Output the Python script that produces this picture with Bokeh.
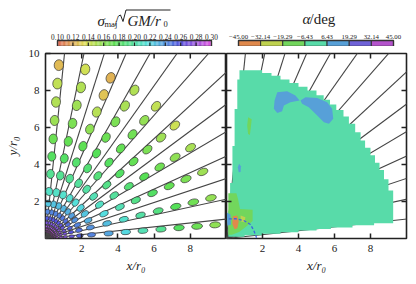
import colorsys
import numpy as np
from bokeh.plotting import figure
from bokeh.layouts import column, row
from bokeh.models import Range1d, FixedTicker, LinearColorMapper, ColumnDataSource
from bokeh.transform import transform
from bokeh.embed import file_html
from bokeh.resources import INLINE
from bokeh.core.properties import value

# ---------------- data ----------------
ray_deg = [4.5, 13.5, 22.5, 31.5, 40.5, 49.5, 58.5, 67.5, 76.5, 85.5]
ring_r = [9.4, 8.4, 7.4, 6.4, 5.4, 4.45, 3.5, 2.55, 1.9, 1.45, 1.1, 0.85, 0.65, 0.5, 0.38]
ring_major = [0.60, 0.60, 0.58, 0.56, 0.54, 0.52, 0.50, 0.45, 0.38, 0.30, 0.24, 0.19, 0.15, 0.11, 0.08]
ray_ratio = [0.54, 0.57, 0.60, 0.64, 0.68, 0.72, 0.76, 0.80, 0.82, 0.84]
sigma_rows = [
    [0.160, 0.170, 0.180, 0.195, 0.205, 0.220, 0.235, 0.245, 0.255, 0.265, 0.272, 0.280, 0.285, 0.290, 0.295],
    [0.158, 0.168, 0.178, 0.190, 0.200, 0.212, 0.228, 0.240, 0.250, 0.260, 0.270, 0.278, 0.285, 0.290, 0.295],
    [0.155, 0.165, 0.172, 0.182, 0.192, 0.205, 0.218, 0.232, 0.245, 0.256, 0.266, 0.276, 0.284, 0.290, 0.295],
    [0.152, 0.160, 0.168, 0.176, 0.186, 0.198, 0.210, 0.225, 0.240, 0.252, 0.264, 0.274, 0.283, 0.290, 0.295],
    [0.142, 0.155, 0.165, 0.172, 0.182, 0.192, 0.205, 0.220, 0.236, 0.250, 0.262, 0.273, 0.282, 0.290, 0.295],
    [0.145, 0.158, 0.168, 0.172, 0.180, 0.188, 0.200, 0.216, 0.232, 0.248, 0.260, 0.272, 0.282, 0.290, 0.295],
    [0.150, 0.152, 0.165, 0.170, 0.178, 0.186, 0.198, 0.214, 0.230, 0.246, 0.260, 0.272, 0.282, 0.290, 0.295],
    [0.122, 0.128, 0.148, 0.160, 0.174, 0.184, 0.196, 0.212, 0.228, 0.245, 0.258, 0.270, 0.280, 0.290, 0.295],
    [0.140, 0.150, 0.155, 0.165, 0.172, 0.182, 0.195, 0.210, 0.226, 0.244, 0.258, 0.270, 0.280, 0.290, 0.295],
    [0.125, 0.145, 0.150, 0.156, 0.170, 0.180, 0.195, 0.210, 0.225, 0.243, 0.257, 0.270, 0.280, 0.290, 0.295],
]
line_deg = [6, 12, 18, 24, 30, 36, 42, 48, 54, 60, 66, 72, 78, 84]

x_ticks = [2, 4, 6, 8]
y_ticks = [2, 4, 6, 8, 10]
sigma_ticks = [0.10, 0.12, 0.14, 0.16, 0.18, 0.20, 0.22, 0.24, 0.26, 0.28, 0.30]
alpha_edges = [-45.00, -32.14, -19.29, -6.43, 6.43, 19.29, 32.14, 45.00]
alpha_colors = ["#e0894c", "#bfd24f", "#72d65c", "#58dba9", "#57a0d8", "#6f62d8", "#b453cc"]

# alpha field (right panel): regions by alpha class, boundaries
field_x = [0.10, 1.0, 1.0, 2.0, 2.0, 3.0, 3.0, 4.0, 4.0, 5.0, 5.0, 5.8, 5.8, 7.0, 7.0, 8.2, 8.2, 9.26,
           9.26, 9.0, 9.0, 8.75, 8.75, 8.5, 8.5, 8.25, 8.25, 8.0, 8.0, 7.7, 7.7, 7.45, 7.45, 7.15, 7.15,
           6.8, 6.8, 6.5, 6.5, 6.1, 6.1, 5.75, 5.75, 5.4, 5.4, 5.0, 5.0, 4.5, 4.5, 4.0, 4.0, 3.5, 3.5,
           3.0, 3.0, 2.5, 2.5, 1.98, 1.98, 0.72,
           0.72, 0.6, 0.6, 0.45, 0.45, 0.33, 0.33, 0.2, 0.2, 0.1]
field_y = [0.10, 0.10, 0.18, 0.18, 0.26, 0.26, 0.34, 0.34, 0.43, 0.43, 0.52, 0.52, 0.60, 0.60, 0.72, 0.72, 0.82, 0.82,
           2.6, 2.6, 3.2, 3.2, 3.7, 3.7, 4.1, 4.1, 4.5, 4.5, 4.9, 4.9, 5.3, 5.3, 5.75, 5.75, 6.2,
           6.2, 6.6, 6.6, 6.95, 6.95, 7.25, 7.25, 7.5, 7.5, 7.75, 7.75, 8.0, 8.0, 8.2, 8.2, 8.4, 8.4, 8.6,
           8.6, 8.8, 8.8, 8.95, 8.95, 9.1, 9.1,
           8.6, 8.6, 7.0, 7.0, 5.0, 5.0, 3.0, 3.0, 1.5, 1.5]
field_cls = 3

blob_x = [
    [2.82, 3.37, 3.83, 4.06, 3.55, 3.19, 3.09, 2.82, 2.63, 2.67],
    [4.11, 4.39, 5.04, 5.59, 5.87, 5.93, 5.69, 5.41, 5.04, 4.57, 4.20],
    [1.20, 1.40, 1.35, 1.30, 1.20, 1.15],
    [0.70, 0.80, 0.78, 0.68, 0.63],
    [0.10, 0.55, 0.65, 0.75, 1.45, 1.45, 1.10, 0.70, 0.30, 0.10],
    [0.78, 1.05, 1.00, 0.80],
    [0.35, 0.60, 0.68, 0.60, 0.45, 0.32],
    [0.02, 0.22, 0.25, 0.05],
]
blob_y = [
    [7.91, 7.96, 7.73, 7.46, 7.37, 7.19, 6.88, 6.79, 7.01, 7.46],
    [7.46, 7.64, 7.60, 7.37, 7.01, 6.47, 6.20, 6.29, 6.65, 7.10, 7.28],
    [6.55, 6.45, 6.00, 5.60, 5.65, 6.10],
    [4.04, 3.90, 3.60, 3.58, 3.85],
    [2.45, 2.45, 2.10, 1.60, 1.55, 0.95, 0.65, 0.35, 0.20, 0.20],
    [1.24, 1.15, 0.88, 0.92],
    [1.20, 1.25, 0.90, 0.55, 0.50, 0.80],
    [1.40, 1.30, 0.75, 0.70],
]
blob_cls = [4, 4, 2, 4, 2, 1, 0, 4]

arc_x = [0.13, 0.50, 0.96, 1.33, 1.52, 1.67]
arc_y = [1.06, 1.07, 0.97, 0.76, 0.43, 0.04]

# ---------------- styling helpers ----------------
FONT = "Liberation Serif"
INK = "#222222"


def hsv_hex(h, s=0.62, v=0.88):
    r, g, b = colorsys.hsv_to_rgb((h % 360) / 360.0, s, v)
    return "#%02x%02x%02x" % (int(r * 255), int(g * 255), int(b * 255))


sigma_palette = [hsv_hex(8 + 292 * i / 255.0) for i in range(256)]
sig_mapper = LinearColorMapper(palette=sigma_palette, low=0.10, high=0.30)

# ---------------- ellipse table ----------------
ex, ey, ew, eh, ea, es = [], [], [], [], [], []
for i, th in enumerate(ray_deg):
    t = np.radians(th)
    for j, r in enumerate(ring_r):
        ex.append(r * np.cos(t))
        ey.append(r * np.sin(t))
        ew.append(ring_major[j])
        eh.append(ring_major[j] * ray_ratio[i])
        ea.append(t)
        es.append(sigma_rows[i][j])
ell_src = ColumnDataSource(dict(x=ex, y=ey, w=ew, h=eh, a=ea, s=es))

lt = np.radians(line_deg)
line_src = ColumnDataSource(dict(x0=[0.0] * len(lt), y0=[0.0] * len(lt),
                                 x1=list(15 * np.cos(lt)), y1=list(15 * np.sin(lt))))


def inner_ticks(p, sides):
    kw = dict(length=5, length_units="screen", line_color=INK, line_width=1.5)
    if "top" in sides:
        p.ray(x=x_ticks, y=[10] * len(x_ticks), angle=-np.pi / 2, **kw)
    if "right" in sides:
        p.ray(x=[10] * 4, y=y_ticks[:4], angle=np.pi, **kw)
    if "left" in sides:
        p.ray(x=[0] * 4, y=y_ticks[:4], angle=0.0, **kw)


def style_panel(p, left_labels):
    p.grid.visible = False
    p.outline_line_color = INK
    p.outline_line_width = 1.6
    for ax in p.axis:
        ax.axis_line_color = None
        ax.major_tick_in = 5
        ax.major_tick_out = 0
        ax.major_tick_line_color = INK
        ax.major_tick_line_width = 1.5
        ax.minor_tick_line_color = None
        ax.major_label_text_font = FONT
        ax.major_label_text_font_size = "11px"
        ax.major_label_text_color = "#222222"
        ax.axis_label_text_font = FONT
        ax.axis_label_text_font_style = "italic"
        ax.axis_label_text_font_size = "13px"
        ax.axis_label_text_color = "#222222"
    p.xaxis.ticker = FixedTicker(ticks=x_ticks)
    p.xaxis.major_label_standoff = 6
    p.xaxis.axis_label = "x/r₀"
    p.xaxis.axis_label_standoff = 3
    if left_labels:
        p.yaxis.ticker = FixedTicker(ticks=y_ticks)
        p.yaxis.major_label_standoff = 6
        p.yaxis.axis_label = "y/r₀"
        p.yaxis.axis_label_standoff = 6


yr = Range1d(0, 10)

p1 = figure(width=226, height=236, x_range=Range1d(0, 10), y_range=yr,
            output_backend="svg", toolbar_location=None,
            min_border_left=45, min_border_right=0, min_border_top=7, min_border_bottom=44)
style_panel(p1, True)
p1.segment("x0", "y0", "x1", "y1", source=line_src, line_color="#444444", line_width=1.1)
p1.ellipse("x", "y", width="w", height="h", angle="a", source=ell_src,
           fill_color=transform("s", sig_mapper), line_color="#333333", line_width=0.7)
inner_ticks(p1, ("top", "right"))

p2 = figure(width=190, height=236, x_range=Range1d(0, 10), y_range=yr,
            output_backend="svg", toolbar_location=None, y_axis_location=None,
            min_border_left=0, min_border_right=10, min_border_top=7, min_border_bottom=44)
style_panel(p2, False)
p2.segment("x0", "y0", "x1", "y1", source=line_src, line_color="#444444", line_width=1.1)
p2.patch(field_x, field_y, fill_color=alpha_colors[field_cls], line_color=None)
p2.patches(blob_x, blob_y, fill_color=[alpha_colors[c] for c in blob_cls], line_color=None)
p2.line(arc_x, arc_y, line_color="#3f63e0", line_width=1.3, line_dash="3 2")
inner_ticks(p2, ("top", "right", "left"))


# ---------------- colour bars ----------------
def cb_fig(w):
    f = figure(width=w, height=46, x_range=Range1d(0, w), y_range=Range1d(46, 0),
               output_backend="svg", toolbar_location=None,
               min_border_left=0, min_border_right=0, min_border_top=0, min_border_bottom=0)
    f.axis.visible = False
    f.grid.visible = False
    f.outline_line_color = None
    return f


def txt(f, x, y, s, size, italic=False, **kw):
    f.text(x=[x], y=[y], text=[s], text_font=value(FONT), text_font_size=size,
           text_font_style="italic" if italic else "normal", text_baseline="alphabetic",
           text_color="#222222", **kw)


# left: sigma bar from px 57 to 211
cb1 = cb_fig(226)
k1 = 0.2 / 154.0
cb1.extra_x_ranges = {"s": Range1d(0.10 - 57 * k1, 0.30 + (226 - 211) * k1)}
edges = np.linspace(0.10, 0.30, 121)
mids = (edges[:-1] + edges[1:]) / 2
cb1.quad(left=edges[:-1], right=edges[1:], top=40, bottom=46,
         fill_color=[sigma_palette[min(255, int((m - 0.10) / 0.2 * 256))] for m in mids],
         line_color=None, x_range_name="s")
cb1.quad(left=[0.10], right=[0.30], top=[40], bottom=[46], fill_color=None,
         line_color="#333333", line_width=1.4, x_range_name="s")
cb1.segment(x0=sigma_ticks[1:-1], y0=[46] * 9, x1=sigma_ticks[1:-1], y1=[42] * 9,
            line_color="#222222", line_width=1.2, x_range_name="s")
cb1.text(x=sigma_ticks, y=[36.5] * len(sigma_ticks), text=["%.2f" % t for t in sigma_ticks],
         text_font=value(FONT), text_font_size="7.3px", text_align="center", text_baseline="alphabetic",
         text_color="#222222", x_range_name="s")
# title  sigma_maj / sqrt(GM/r0)
txt(cb1, 97, 20, "σ", "15px", italic=True)
txt(cb1, 104, 23.5, "maj", "8.5px")
txt(cb1, 114, 20, "/", "15px")
cb1.line(x=[118, 120, 122.5, 125.5, 170], y=[15.5, 14.5, 21, 9.5, 9.5], line_color="#222222", line_width=1.0)
txt(cb1, 127, 20, "GM/r", "15px", italic=True)
txt(cb1, 163, 23.5, "0", "8.5px")

# right: alpha bar from px 12 to 167
cb2 = cb_fig(190)
k2 = 90.0 / 155.0
cb2.extra_x_ranges = {"a": Range1d(-45 - 12 * k2, 45 + (190 - 167) * k2)}
cb2.quad(left=alpha_edges[:-1], right=alpha_edges[1:], top=40, bottom=46,
         fill_color=alpha_colors, line_color="#333333", line_width=1.0, x_range_name="a")
cb2.quad(left=[-45], right=[45], top=[40], bottom=[46], fill_color=None,
         line_color="#333333", line_width=1.4, x_range_name="a")
cb2.text(x=alpha_edges, y=[36.5] * len(alpha_edges),
         text=[("%.2f" % t).replace("-", "−") for t in alpha_edges],
         text_font=value(FONT), text_font_size="6.8px", text_align="center", text_baseline="alphabetic",
         text_color="#222222", x_range_name="a")
txt(cb2, 76, 18.5, "α", "15px", italic=True)
txt(cb2, 83, 18.5, "/deg", "15px")

layout = column(row(cb1, cb2, spacing=0), row(p1, p2, spacing=0), spacing=0)
open("out.html", "w").write(file_html(layout, INLINE))
